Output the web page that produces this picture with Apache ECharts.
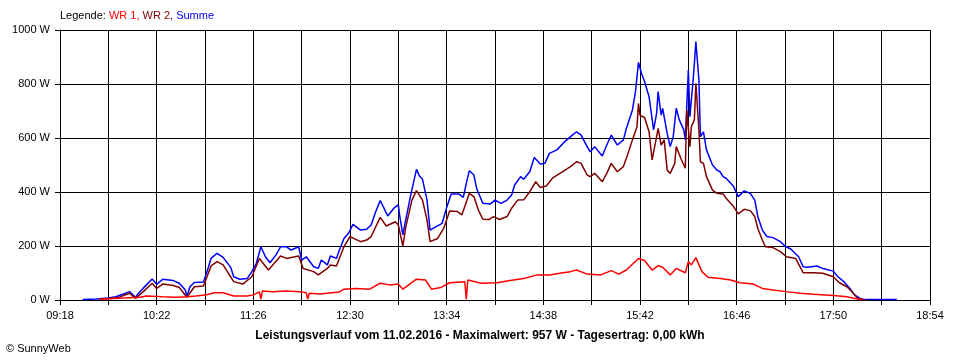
<!DOCTYPE html>
<html>
<head>
<meta charset="utf-8">
<script src="https://cdn.jsdelivr.net/npm/echarts@6/dist/echarts.min.js"></script>
<style>
  html, body { margin: 0; padding: 0; background: #fff; }
  #chart { width: 960px; height: 360px; }
</style>
</head>
<body>
<div id="chart"></div>
<script>
// ---- Data ----
const xTickLabels = ['09:18', '10:22', '11:26', '12:30', '13:34', '14:38', '15:42', '16:46', '17:50', '18:54'];
const yTickValues = [0, 200, 400, 600, 800, 1000];

const summeTimes = ["09:33","09:42","09:50","09:55","10:00","10:04","10:08","10:10","10:13","10:19","10:22","10:26","10:33","10:37","10:41","10:42","10:44","10:47","10:53","10:55","10:58","11:02","11:06","11:11","11:13","11:17","11:22","11:25","11:28","11:31","11:34","11:37","11:41","11:44","11:48","11:51","11:56","11:58","12:01","12:06","12:09","12:11","12:15","12:17","12:21","12:23","12:26","12:29","12:32","12:37","12:41","12:44","12:47","12:50","12:52","12:55","12:59","13:02","13:03","13:05","13:06","13:10","13:14","13:16","13:18","13:21","13:23","13:27","13:31","13:34","13:37","13:42","13:45","13:47","13:49","13:52","13:54","13:58","14:03","14:06","14:10","14:14","14:17","14:19","14:23","14:25","14:29","14:32","14:36","14:39","14:42","14:47","14:51","14:56","15:00","15:03","15:07","15:09","15:12","15:17","15:20","15:23","15:27","15:31","15:33","15:37","15:39","15:41","15:43","15:45","15:48","15:51","15:53","15:54","15:56","15:57","16:00","16:02","16:04","16:06","16:08","16:11","16:12","16:14","16:15","16:17","16:18","16:19","16:21","16:22","16:24","16:26","16:30","16:33","16:35","16:37","16:39","16:44","16:47","16:51","16:55","16:58","17:00","17:03","17:06","17:10","17:15","17:18","17:22","17:27","17:30","17:33","17:39","17:43","17:50","17:53","17:57","18:01","18:04","18:08","18:10","18:32"];
const summeValues = [2,4,7,12,22,31,10,25,43,78,58,77,72,62,37,12,49,65,67,99,154,173,158,121,86,77,80,105,136,197,160,138,167,197,197,185,197,148,160,123,117,148,130,163,154,185,228,247,280,259,262,278,327,368,346,311,340,352,309,241,272,383,484,459,447,370,259,272,284,343,393,393,380,432,479,463,410,358,356,370,358,370,389,426,457,447,475,528,504,506,543,556,580,605,623,611,568,549,568,533,574,611,574,593,636,704,772,880,839,809,753,630,691,772,685,710,617,568,605,710,667,630,593,852,679,802,876,957,815,605,623,556,500,481,475,457,451,420,383,404,395,370,309,259,235,231,216,200,188,160,123,121,126,117,107,86,68,43,19,5,3,2];

const wr2Times = ["09:44","09:56","10:04","10:08","10:13","10:19","10:22","10:26","10:33","10:37","10:42","10:47","10:53","10:58","11:02","11:06","11:13","11:19","11:25","11:30","11:36","11:44","11:48","11:56","11:59","12:06","12:09","12:15","12:17","12:21","12:26","12:30","12:37","12:41","12:44","12:50","12:54","13:00","13:02","13:05","13:07","13:11","13:14","13:18","13:21","13:23","13:28","13:32","13:36","13:41","13:44","13:46","13:49","13:52","13:55","13:58","14:02","14:05","14:09","14:14","14:17","14:21","14:25","14:29","14:33","14:36","14:40","14:44","14:49","14:56","15:00","15:03","15:07","15:09","15:12","15:17","15:20","15:23","15:27","15:31","15:33","15:37","15:40","15:41","15:42","15:45","15:48","15:50","15:53","15:54","15:56","15:58","16:00","16:02","16:05","16:06","16:09","16:12","16:13","16:15","16:16","16:18","16:19","16:21","16:22","16:24","16:26","16:30","16:33","16:37","16:39","16:44","16:47","16:51","16:55","16:58","17:00","17:03","17:05","17:10","17:15","17:19","17:25","17:28","17:30","17:37","17:43","17:50","17:54","17:59","18:03","18:06","18:10","18:12"];
const wr2Values = [3,8,25,6,30,62,43,59,54,46,10,49,52,126,142,130,68,59,86,154,111,163,154,163,117,105,93,117,130,126,197,235,216,222,235,306,274,290,278,200,272,370,405,370,296,216,228,265,330,328,315,346,395,383,333,299,298,309,298,309,340,370,371,401,438,417,422,451,469,494,512,506,463,457,469,438,469,506,475,494,525,593,642,728,685,676,623,519,605,636,574,593,481,469,506,568,525,488,704,568,642,667,802,630,512,506,457,407,395,393,377,346,319,336,331,309,265,222,197,194,179,160,154,123,101,101,99,86,64,49,27,6,1,0];

const wr1Times = ["09:44","10:00","10:11","10:15","10:26","10:35","10:42","10:48","10:55","11:00","11:06","11:13","11:22","11:26","11:30","11:31","11:32","11:39","11:48","11:57","12:01","12:02","12:03","12:10","12:23","12:26","12:34","12:43","12:50","12:56","13:02","13:05","13:14","13:20","13:24","13:30","13:36","13:46","13:47","13:48","13:57","14:07","14:16","14:25","14:34","14:42","14:51","14:56","15:00","15:07","15:16","15:23","15:28","15:33","15:41","15:45","15:50","15:54","15:57","16:02","16:06","16:12","16:14","16:16","16:19","16:23","16:27","16:35","16:42","16:48","16:57","17:03","17:10","17:19","17:28","17:37","17:50","17:59","18:05","18:09"];
const wr1Values = [3,7,10,15,12,10,12,15,19,27,27,15,15,19,30,3,33,31,33,31,27,3,25,22,30,40,43,40,62,56,59,40,77,74,40,46,64,68,3,74,62,64,72,80,93,93,101,105,111,96,93,109,96,111,154,146,111,127,121,93,117,101,142,130,157,105,84,80,74,64,59,43,37,31,25,21,17,12,5,1];

const seriesNames = ['WR 1', 'WR 2', 'Summe'];
const seriesColors = ['#ff0000', '#800000', '#0000ff'];
const titleText = 'Leistungsverlauf vom 11.02.2016 - Maximalwert: 957 W - Tagesertrag: 0,00 kWh';
const creditText = '\u00A9 SunnyWeb';

// ---- Helpers ----
function toMin(s) { const p = s.split(':'); return (+p[0]) * 60 + (+p[1]); }
const startMin = toMin(xTickLabels[0]);
const endMin = toMin(xTickLabels[xTickLabels.length - 1]);
const labelStep = toMin(xTickLabels[1]) - startMin; // 64
const gridStep = labelStep / 2; // 32
function pairs(times, values) { return times.map((t, i) => [toMin(t) - startMin, values[i]]); }
function fmt(m) { const h = Math.floor(m / 60), mm = m % 60; return (h < 10 ? '0' : '') + h + ':' + (mm < 10 ? '0' : '') + mm; }

const FONT = '"Liberation Sans", Arial, sans-serif';
const chart = echarts.init(document.getElementById('chart'), null, { renderer: 'canvas' });
chart.setOption({
  animation: false,
  backgroundColor: '#ffffff',
  textStyle: { fontFamily: FONT },
  title: [
    {
      text: '{k|Legende: }{a|' + seriesNames[0] + ', }{b|' + seriesNames[1] + ', }{c|' + seriesNames[2] + '}',
      left: 60, top: 9, padding: 0,
      textStyle: {
        fontSize: 11, fontWeight: 'normal', lineHeight: 13,
        rich: {
          k: { color: '#000', fontSize: 11, fontFamily: FONT, lineHeight: 13 },
          a: { color: seriesColors[0], fontSize: 11, fontFamily: FONT, lineHeight: 13 },
          b: { color: seriesColors[1], fontSize: 11, fontFamily: FONT, lineHeight: 13 },
          c: { color: seriesColors[2], fontSize: 11, fontFamily: FONT, lineHeight: 13 }
        }
      }
    },
    {
      text: titleText, left: 'center', top: 329, padding: 0,
      textStyle: { fontSize: 12, fontWeight: 'bold', color: '#000', fontFamily: FONT, lineHeight: 14 }
    },
    {
      text: creditText, left: 6, top: 342, padding: 0,
      textStyle: { fontSize: 11, fontWeight: 'normal', color: '#000', fontFamily: FONT, lineHeight: 13 }
    }
  ],
  grid: { left: 60, right: 30, top: 30, bottom: 60, containLabel: false },
  xAxis: {
    type: 'value', min: 0, max: endMin - startMin, interval: gridStep,
    axisLine: { show: true, lineStyle: { color: '#000', width: 1 } },
    axisTick: { show: true, length: 5, lineStyle: { color: '#000', width: 1 } },
    splitLine: { show: true, lineStyle: { color: '#000', width: 1 } },
    axisLabel: {
      color: '#000', fontSize: 11, fontFamily: FONT, margin: 10,
      showMinLabel: true, showMaxLabel: true,
      formatter: v => (Math.round(v) % labelStep === 0 ? fmt(Math.round(v) + startMin) : '')
    }
  },
  yAxis: {
    type: 'value', min: yTickValues[0], max: yTickValues[yTickValues.length - 1],
    interval: yTickValues[1] - yTickValues[0],
    axisLine: { show: true, lineStyle: { color: '#000', width: 1 } },
    axisTick: { show: true, length: 5, lineStyle: { color: '#000', width: 1 } },
    splitLine: { show: true, lineStyle: { color: '#000', width: 1 } },
    axisLabel: { color: '#000', fontSize: 11, fontFamily: FONT, margin: 10, formatter: v => String(v) + ' W' }
  },
  series: [
    { name: seriesNames[2], type: 'line', data: pairs(summeTimes, summeValues), symbol: 'none', showSymbol: false,
      lineStyle: { color: seriesColors[2], width: 1.5 }, itemStyle: { color: seriesColors[2] }, z: 2 },
    { name: seriesNames[1], type: 'line', data: pairs(wr2Times, wr2Values), symbol: 'none', showSymbol: false,
      lineStyle: { color: seriesColors[1], width: 1.5 }, itemStyle: { color: seriesColors[1] }, z: 3 },
    { name: seriesNames[0], type: 'line', data: pairs(wr1Times, wr1Values), symbol: 'none', showSymbol: false,
      lineStyle: { color: seriesColors[0], width: 1.5 }, itemStyle: { color: seriesColors[0] }, z: 4 }
  ]
});
</script>
</body>
</html>
